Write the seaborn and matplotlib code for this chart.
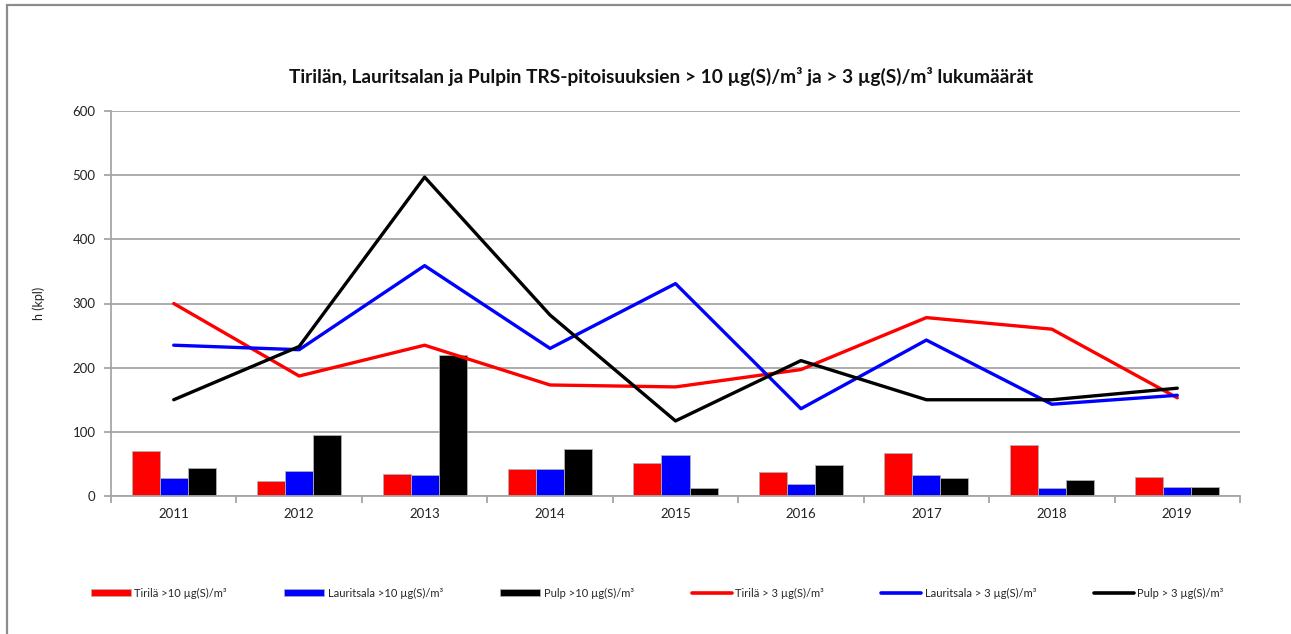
import numpy as np
import pandas as pd
import matplotlib
matplotlib.use("Agg")
import matplotlib.pyplot as plt
from matplotlib.patches import Patch, Rectangle
from matplotlib.lines import Line2D
import seaborn as sns

# --- data ---
years = ["2011", "2012", "2013", "2014", "2015", "2016", "2017", "2018", "2019"]

# bars: counts of hours > 10 ug(S)/m3
tirila_10 = [70, 24, 35, 42, 51, 37, 67, 80, 30]
lauritsala_10 = [28, 39, 32, 42, 64, 18, 32, 12, 14]
pulp_10 = [44, 95, 219, 74, 12, 49, 28, 25, 14]

# lines: counts of hours > 3 ug(S)/m3
tirila_3 = [300, 187, 235, 173, 170, 197, 278, 260, 153]
lauritsala_3 = [235, 228, 359, 230, 331, 136, 243, 143, 157]
pulp_3 = [150, 233, 497, 282, 117, 211, 150, 150, 168]

bar_labels = ["Tirilä >10 µg(S)/m³", "Lauritsala >10 µg(S)/m³", "Pulp >10 µg(S)/m³"]
line_labels = ["Tirilä > 3 µg(S)/m³", "Lauritsala > 3 µg(S)/m³", "Pulp > 3 µg(S)/m³"]
colors = ["#ff0000", "#0000ff", "#000000"]

title = "Tirilän, Lauritsalan ja Pulpin TRS-pitoisuuksien > 10 µg(S)/m³ ja > 3 µg(S)/m³ lukumäärät"
ylabel = "h (kpl)"

bars = pd.DataFrame({"year": years * 3,
                     "value": tirila_10 + lauritsala_10 + pulp_10,
                     "series": [l for l in bar_labels for _ in years]})
lines = pd.DataFrame({"year": years * 3,
                      "value": tirila_3 + lauritsala_3 + pulp_3,
                      "series": [l for l in line_labels for _ in years]})

sns.set_theme(style="white")
plt.rcParams["font.family"] = ["Lato", "DejaVu Sans"]
GRID = "#a6a6a6"

fig = plt.figure(figsize=(12.91, 6.34), dpi=100)
ax = fig.add_axes([111 / 1291, 1 - 496 / 634, (1240 - 111) / 1291, (496 - 111) / 634])

sns.barplot(data=bars, x="year", y="value", hue="series", palette=colors, width=0.67,
            edgecolor="#b0b0b0", linewidth=0.6, saturation=1, legend=False, ax=ax, zorder=2)
sns.pointplot(data=lines, x="year", y="value", hue="series", palette=colors, markers="",
              linestyles="-", linewidth=2.4, legend=False, ax=ax, zorder=3)

ax.set_xlim(-0.5, len(years) - 0.5)
ax.set_ylim(0, 600)
ax.set_yticks(range(0, 601, 100))
ax.yaxis.grid(True, color=GRID, lw=1.3, zorder=0)
ax.set_axisbelow(True)
ax.set_xlabel("")
ax.set_ylabel(ylabel, fontsize=9, labelpad=20, color="#222222")
for s in ["top", "right"]:
    ax.spines[s].set_visible(False)
for s in ["left", "bottom"]:
    ax.spines[s].set_color(GRID)
    ax.spines[s].set_linewidth(1.3)
ax.set_xticks(np.arange(-0.5, len(years), 1.0), minor=True)
ax.tick_params(axis="x", which="major", length=0, labelsize=9.5, pad=9, colors="#222222")
ax.tick_params(axis="x", which="minor", length=5, width=1.3, color=GRID, bottom=True)
ax.tick_params(axis="y", length=5, width=1.3, color=GRID, labelsize=9.5, pad=6,
               left=True, labelcolor="#222222")

fig.text(661 / 1291, 1 - 76 / 634, title, ha="center", va="center",
         fontsize=13.8, fontweight="bold", color="#111111")

handles = [Patch(facecolor=c, edgecolor="#b0b0b0", linewidth=0.5) for c in colors]
handles += [Line2D([0], [0], color=c, lw=2.6) for c in colors]
fig.legend(handles, bar_labels + line_labels, ncol=6, loc="center",
           bbox_to_anchor=(657 / 1291, 1 - 593 / 634), frameon=False, fontsize=8,
           handlelength=3.6, handleheight=0.6, handletextpad=0.3, columnspacing=5.2)

# outer chart frame (cut by the screenshot on the right and bottom)
fig.patches.append(Rectangle((7 / 1291, -0.1), 1.2, 1 - 5 / 634 + 0.1,
                             transform=fig.transFigure, fill=False,
                             edgecolor="#8c8c8c", lw=1.6))

fig.savefig("out.png", dpi=100, facecolor="white")
